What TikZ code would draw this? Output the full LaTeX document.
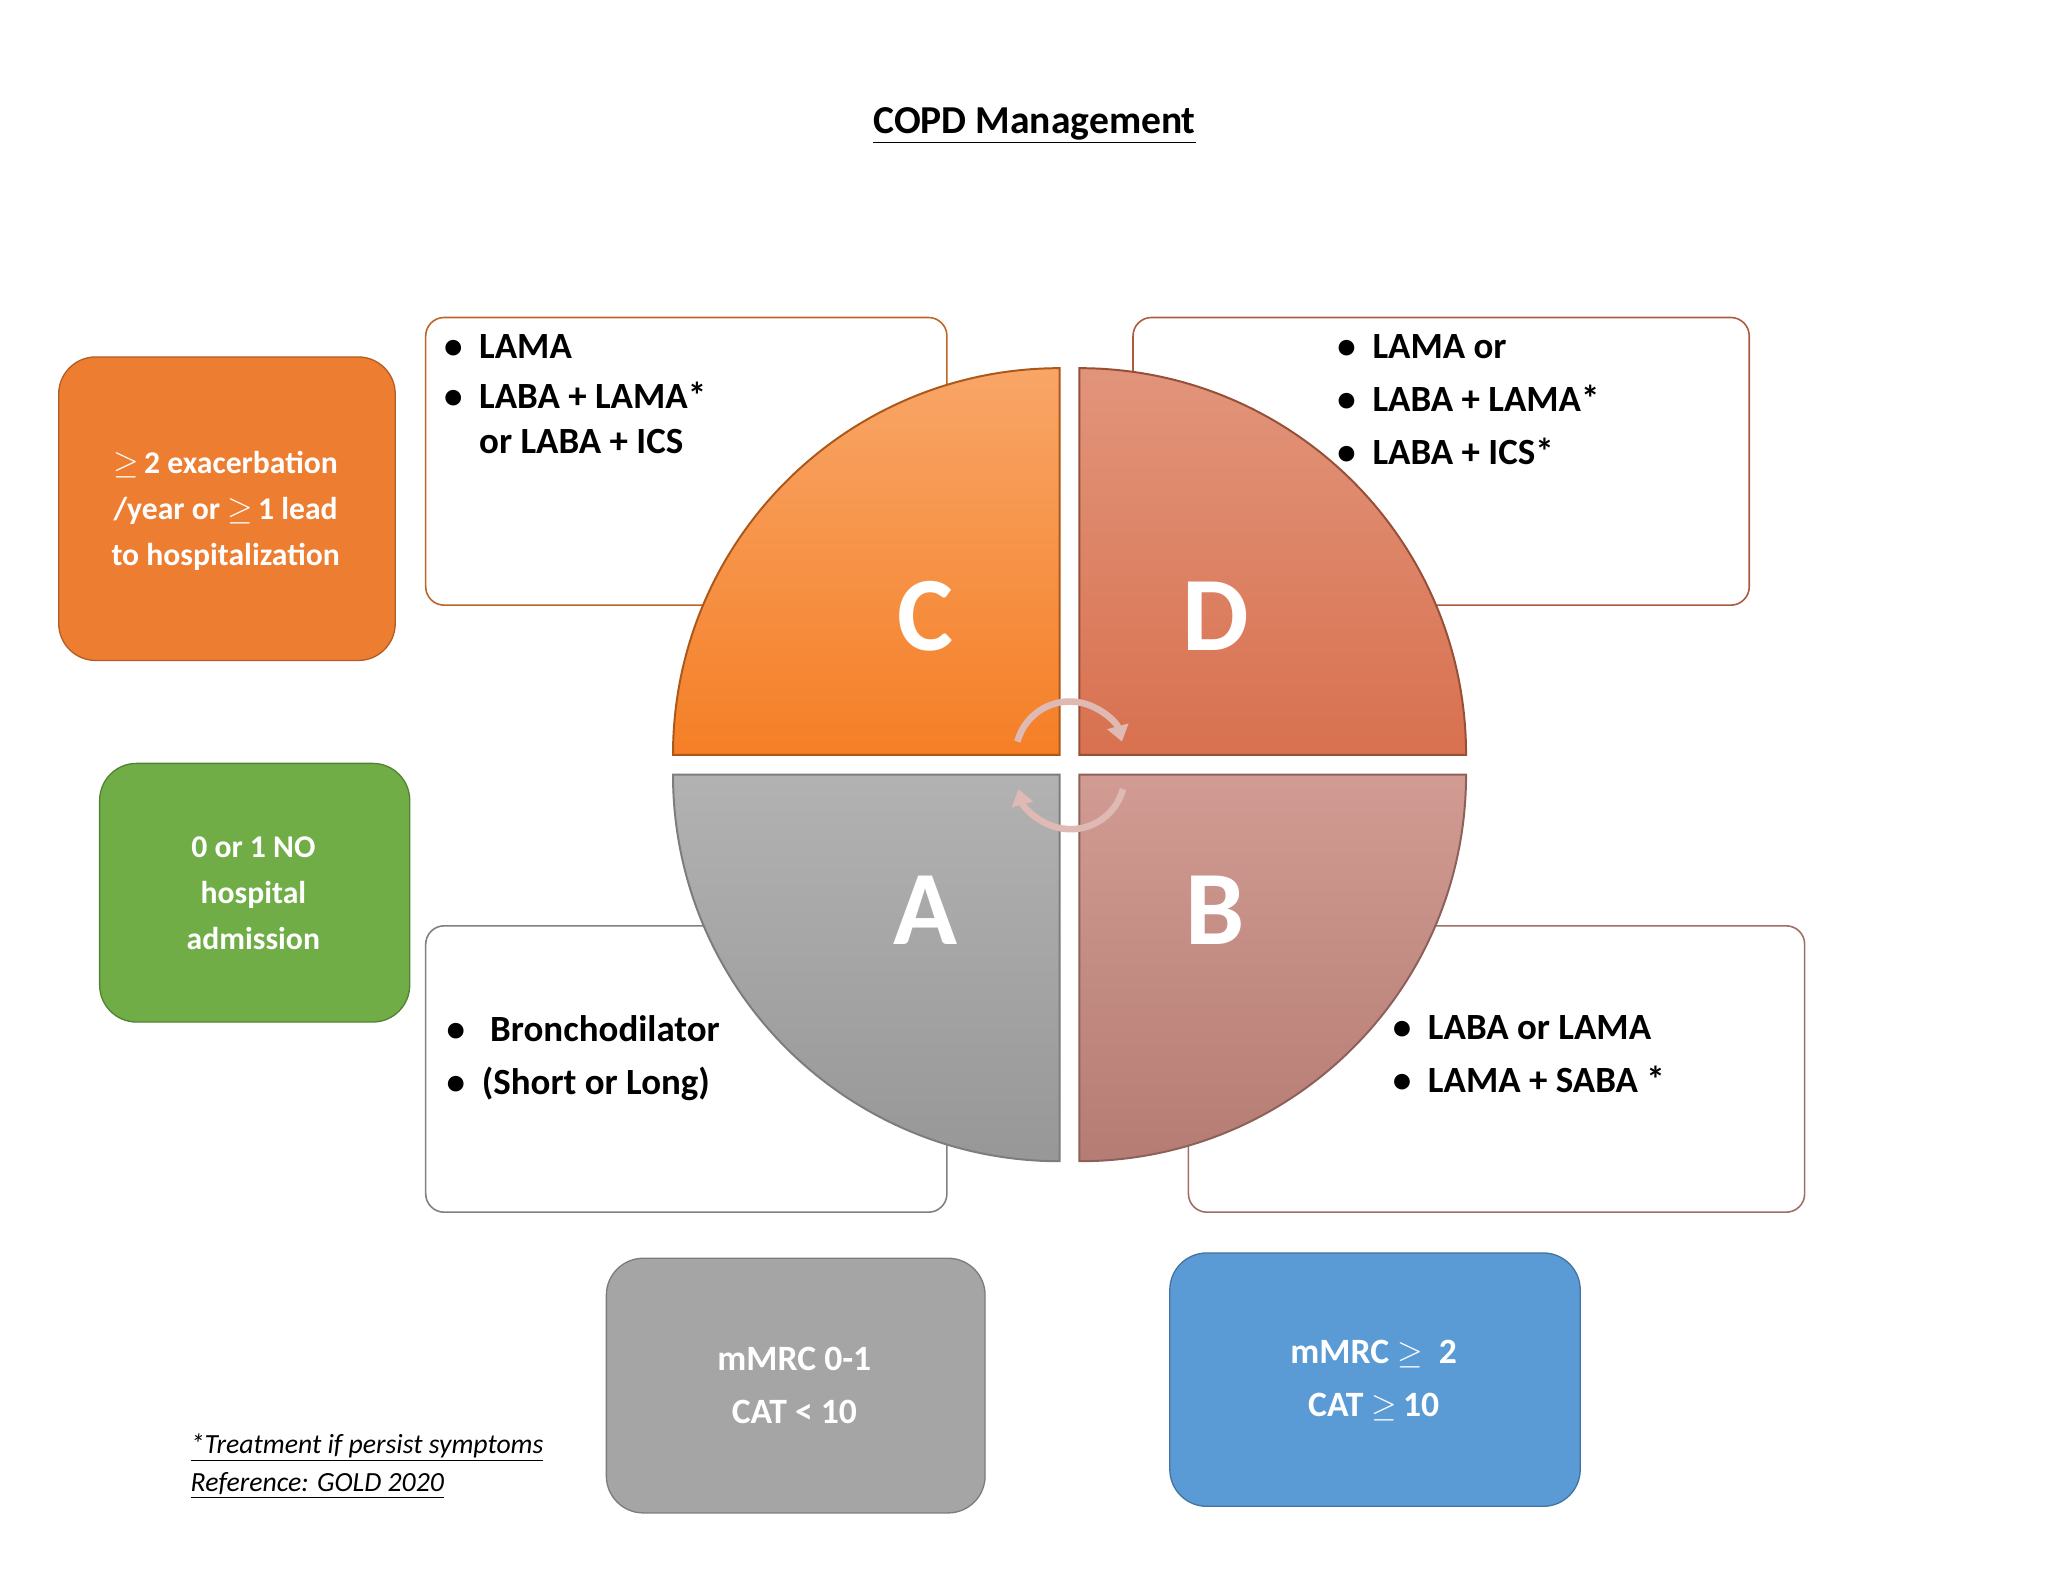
\documentclass[tikz,border=0pt]{standalone}
\usepackage{fontspec}
\setmainfont{Carlito}
\usetikzlibrary{arrows.meta}
\definecolor{orng}{HTML}{ED7D31}
\definecolor{grn}{HTML}{70AD47}
\definecolor{gry}{HTML}{A5A5A5}
\definecolor{blu}{HTML}{5B9BD5}
\definecolor{cC}{HTML}{F57F26}
\definecolor{cD}{HTML}{D8714F}
\definecolor{cA}{HTML}{B2B2B2}
\definecolor{cB}{HTML}{C98A80}
\begin{document}
\begin{tikzpicture}[x=1pt,y=1pt,
  side/.style={rounded corners=28pt,draw=#1!75!black,line width=1pt,fill=#1,text=white,font=\bfseries\fontsize{24}{35}\selectfont,align=center,anchor=north west},
  tbox/.style={rounded corners=14pt,draw=#1,line width=1.2pt,fill=white,anchor=north west},
  list/.style={anchor=north west,align=left,font=\bfseries\fontsize{28}{40}\selectfont},
  quad/.style={fill=#1,draw=#1!70!black,line width=1.5pt},
  big/.style={text=white,font=\bfseries\fontsize{80}{80}\selectfont},
  carr/.style={line width=5pt,draw=#1,-{Triangle[length=12pt,width=16pt]}}]
\useasboundingbox (0,0) rectangle (1552,-1199);
\node[font=\bfseries\fontsize{30}{36}\selectfont] (title) at (784,-95) {\underline{COPD Management}};
% text boxes
\node[tbox=orng!80!black,minimum width=395pt,minimum height=218pt] (tc) at (322,-240) {};
\node[tbox=cD!80!black,minimum width=467pt,minimum height=218pt] (td) at (858,-240) {};
\node[tbox=gray,minimum width=395pt,minimum height=217pt] (ta) at (322,-701) {};
\node[tbox=cB!80!black,minimum width=467pt,minimum height=217pt] (tb) at (900,-701) {};
\node[list] (lc) at (333,-250) {\textbullet\ \ LAMA\\[-2pt]\textbullet\ \ LABA + LAMA*\\[-6pt]\phantom{\textbullet\ \ }or LABA + ICS};
\node[list] (ld) at (1010,-250) {\textbullet\ \ LAMA or\\\textbullet\ \ LABA + LAMA*\\\textbullet\ \ LABA + ICS*};
\node[list] (la) at (335,-766) {\textbullet\ \ \ Bronchodilator\\\textbullet\ \ (Short or Long)};
\node[list] (lb) at (1052,-766) {\textbullet\ \ LABA or LAMA\\\textbullet\ \ LAMA + SABA *};
% quadrants
\path[quad=cC,top color=cC!70!white,bottom color=cC] (803,-572) -- ++(-293,0) arc[start angle=180,end angle=90,radius=293] -- cycle;
\path[quad=cD,top color=cD!75!white,bottom color=cD] (818,-572) -- ++(0,293) arc[start angle=90,end angle=0,radius=293] -- cycle;
\path[quad=cA,top color=cA,bottom color=cA!85!black] (803,-587) -- ++(-293,0) arc[start angle=180,end angle=270,radius=293] -- cycle;
\path[quad=cB,top color=cB!85!white,bottom color=cB!90!black] (818,-587) -- ++(293,0) arc[start angle=0,end angle=-90,radius=293] -- cycle;
\node[big] (C) at (701,-467) {C};
\node[big] (D) at (921,-467) {D};
\node[big] (A) at (701,-690) {A};
\node[big] (B) at (921,-690) {B};
% center arrows
\draw[carr=cB!60!white] (771,-562) arc[start angle=165,end angle=15,radius=41];
\draw[carr=cB!60!white] (851,-598) arc[start angle=-15,end angle=-165,radius=41];
% side boxes
\node[side=orng,minimum width=255pt,minimum height=230pt] (exa) at (44,-270) {};
\node[font=\bfseries\fontsize{24}{35}\selectfont,text=white,align=center] (exat) at (171,-387) {\ensuremath{\geq}\,2 exacerbation\\/year or \ensuremath{\geq}\,1 lead\\to hospitalization};
\node[side=grn,minimum width=235pt,minimum height=196pt] (noh) at (75,-578) {};
\node[font=\bfseries\fontsize{24}{35}\selectfont,text=white,align=center] (noht) at (192,-677) {0 or 1 NO\\hospital\\admission};
\node[side=gry,minimum width=287pt,minimum height=193pt] (mm1) at (459,-953) {};
\node[font=\bfseries\fontsize{27}{40}\selectfont,text=white,align=center] (mm1t) at (602,-1050) {mMRC 0-1\\CAT < 10};
\node[side=blu,minimum width=311pt,minimum height=192pt] (mm2) at (886,-949) {};
\node[font=\bfseries\fontsize{27}{40}\selectfont,text=white,align=center] (mm2t) at (1041,-1046) {mMRC \ensuremath{\geq}\ \ 2\\CAT \ensuremath{\geq}\,10};
% footnote
\node[anchor=north west,align=left,font=\itshape\fontsize{21}{29}\selectfont] (fn) at (141,-1083) {\underline{*Treatment if persist symptoms}\\\underline{Reference: GOLD 2020}};
\end{tikzpicture}
\end{document}
